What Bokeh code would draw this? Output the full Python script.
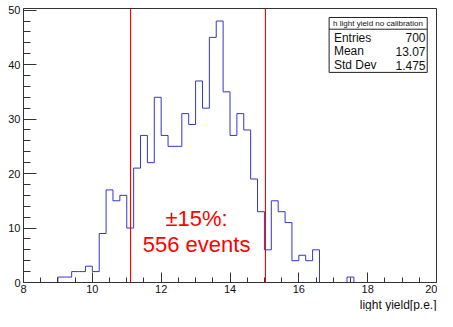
from bokeh.plotting import figure
from bokeh.models import SingleIntervalTicker, Span, Title, ColumnDataSource
from bokeh.core.properties import value
from bokeh.embed import file_html
from bokeh.resources import INLINE
import numpy as np

# ---- data ----
x_lo, x_hi, bin_width = 8.0, 20.0, 0.2
counts = [0, 0, 0, 0, 0,
          1, 1, 2, 2, 3, 2, 9, 17, 15, 16,
          10, 21, 27, 22, 34, 27, 25, 25, 31, 29,
          37, 32, 45, 48, 35, 27, 31, 28, 19, 13,
          6, 15, 13, 11, 4, 5, 4, 6,
          0, 0, 0, 0, 1,
          0, 0, 0, 0, 0, 0, 0, 0, 0, 0, 0, 0]
cut_lo = 11.11   # mean - 15%
cut_hi = 15.03   # mean + 15%
stat_title = "h light yield no calibration"
stat_names = ["Entries", "Mean", "Std Dev"]
stat_values = ["700", "13.07", "1.475"]
note_lines = ["\u00b115%:", "556 events"]
x_label = "light yield[p.e.]"

n_bins = int(round((x_hi - x_lo) / bin_width))
edges = np.round(np.linspace(x_lo, x_hi, n_bins + 1), 4)

FONT = "Liberation Sans"

p = figure(width=437, height=311, x_range=(x_lo, x_hi), y_range=(0, 50.3),
           output_backend="svg", toolbar_location=None,
           min_border_left=23, min_border_right=1, min_border_top=8,
           min_border_bottom=10, background_fill_color="white",
           border_fill_color="white")
p.xgrid.visible = False
p.ygrid.visible = False
p.outline_line_color = "#333333"
p.outline_line_width = 1

# histogram outline
p.step(x=list(edges), y=counts + [0], mode="after", line_color="#3535c8",
       line_width=1)

# cut lines
for c in (cut_lo, cut_hi):
    p.add_layout(Span(location=c, dimension="height", line_color="#ff0000",
                      line_width=1.1))

# axes
p.xaxis.ticker = SingleIntervalTicker(interval=2, num_minor_ticks=4)
p.yaxis.ticker = SingleIntervalTicker(interval=10, num_minor_ticks=5)
for ax in p.xaxis:
    ax.major_tick_in = 10
    ax.major_tick_out = 0
    ax.minor_tick_in = 5
    ax.minor_tick_out = 0
    ax.major_label_standoff = 2
for ax in p.yaxis:
    ax.major_tick_in = 13
    ax.major_tick_out = 0
    ax.minor_tick_in = 7
    ax.minor_tick_out = 0
    ax.major_label_standoff = 3
for ax in list(p.xaxis) + list(p.yaxis):
    ax.axis_line_color = "#333333"
    ax.major_tick_line_color = "#333333"
    ax.minor_tick_line_color = "#333333"
    ax.major_label_text_font = FONT
    ax.major_label_text_font_size = "11px"
    ax.major_label_text_color = "#111111"

# x-axis label, right-aligned under the end of the axis
p.add_layout(Title(text=x_label, align="right", standoff=0,
                   text_font=FONT, text_font_size="12px",
                   text_font_style="normal", text_color="#111111"),
             "below")

# annotation text
note_src = ColumnDataSource(dict(x=[13.03, 13.03], y=[11.74, 6.9], t=note_lines))
p.text(x="x", y="y", text="t", source=note_src, text_align="center",
       text_baseline="alphabetic", text_color="#ff0000",
       text_font=value(FONT), text_font_size="22px")

# stats box
bx_l, bx_r, bx_b, bx_t, bx_div = 16.88, 19.73, 38.57, 48.65, 46.5
p.quad(left=[bx_l], right=[bx_r], bottom=[bx_b], top=[bx_t],
       fill_color="white", line_color="#222222", line_width=1)
p.segment(x0=[bx_l], x1=[bx_r], y0=[bx_div], y1=[bx_div],
          line_color="#222222", line_width=1)
p.text(x=[18.3], y=[47.58], text=[stat_title], text_align="center",
       text_baseline="middle", text_color="#111111",
       text_font=value(FONT), text_font_size="8px")
row_y = [44.97, 42.45, 39.86]
p.text(x=[17.02] * 3, y=row_y, text=stat_names, text_align="left",
       text_baseline="middle", text_color="#111111",
       text_font=value(FONT), text_font_size="12px")
p.text(x=[19.68] * 3, y=row_y, text=stat_values, text_align="right",
       text_baseline="middle", text_color="#111111",
       text_font=value(FONT), text_font_size="12px")

open("out.html", "w").write(file_html(p, INLINE))
